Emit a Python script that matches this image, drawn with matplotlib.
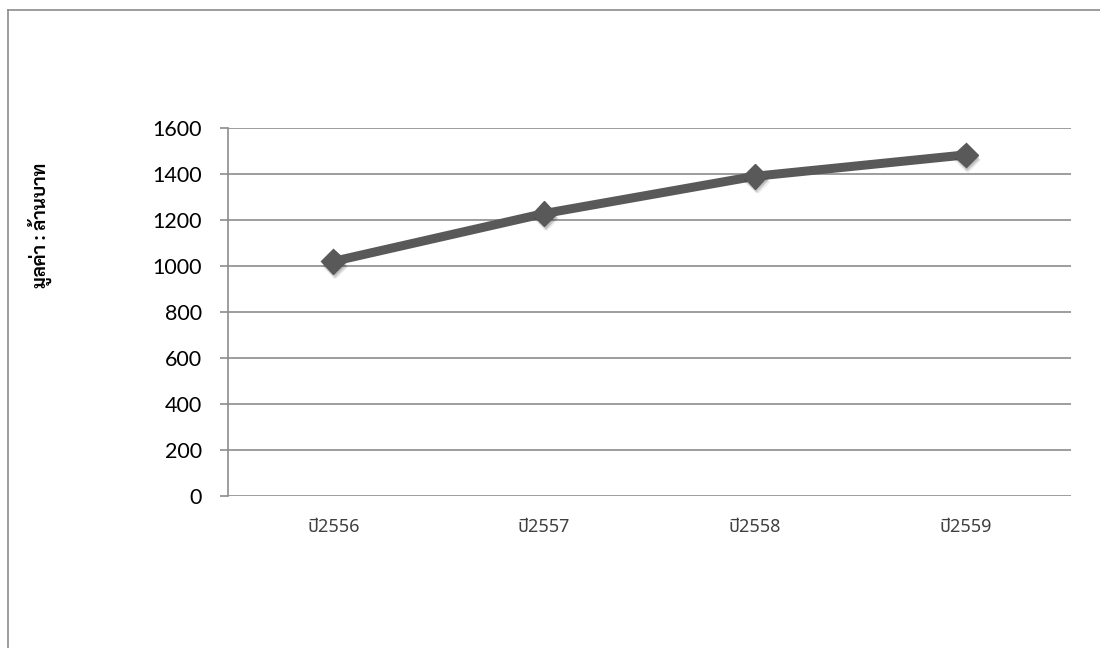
import matplotlib
matplotlib.use("Agg")
import matplotlib.pyplot as plt
import matplotlib.patheffects as pe
from matplotlib.lines import Line2D

years = ["ปี2556", "ปี2557", "ปี2558", "ปี2559"]
value = [1020, 1228, 1390, 1483]
yticks = [0, 200, 400, 600, 800, 1000, 1200, 1400, 1600]

grid_c = "#8c8c8c"
line_c = "#595959"

fig = plt.figure(figsize=(11, 6.48), dpi=100)
ax = fig.add_axes([0.2073, 0.2346, 0.7663, 0.5679])

x = range(len(years))
ax.plot(x, value, color=line_c, lw=6.5, solid_capstyle="butt", zorder=3)
# soft drop shadow under the diamonds, a few faint offset copies
shadow = [pe.SimplePatchShadow(offset=(dx, -dy), shadow_rgbFace="#000000", alpha=0.07)
          for dx, dy in [(1, 2), (1.5, 3), (2, 4), (0.5, 3.5)]]
ax.plot(x, value, ls="none", marker="D", ms=12.5, mfc=line_c, mec=line_c,
        zorder=4, path_effects=shadow + [pe.Normal()])

ax.set_xlim(-0.5, 3.5)
ax.set_ylim(0, 1600)
ax.set_yticks(yticks)
ax.set_yticklabels([str(v) for v in yticks], fontfamily="Lato", fontsize=15.5, color="black")
ax.set_xticks(list(x))
ax.set_xticklabels(years, fontfamily=["Noto Sans Thai", "DejaVu Sans"], fontsize=13, color="#404040")
ax.tick_params(axis="x", length=0, pad=16)
ax.tick_params(axis="y", length=6, width=1.2, color=grid_c, pad=13)

ax.grid(axis="y", color=grid_c, lw=1.2, zorder=0)
for s in ["top", "right", "bottom"]:
    ax.spines[s].set_visible(False)
ax.spines["left"].set_color(grid_c)
ax.spines["left"].set_linewidth(1.2)

fig.text(40 / 1100, 1 - 225 / 648, "มูลค่า : ล้านบาท", rotation=90, ha="center", va="center",
         fontfamily=["Sarabun", "DejaVu Sans"], fontweight="bold", fontsize=13.5, color="black")

# outer frame: only top and left edges fall inside the image
fig.add_artist(Line2D([8 / 1100, 8 / 1100], [0, 1 - 10 / 648], color=grid_c, lw=1.2))
fig.add_artist(Line2D([8 / 1100, 1], [1 - 10 / 648, 1 - 10 / 648], color=grid_c, lw=1.2))

fig.savefig("out.png", dpi=100)
